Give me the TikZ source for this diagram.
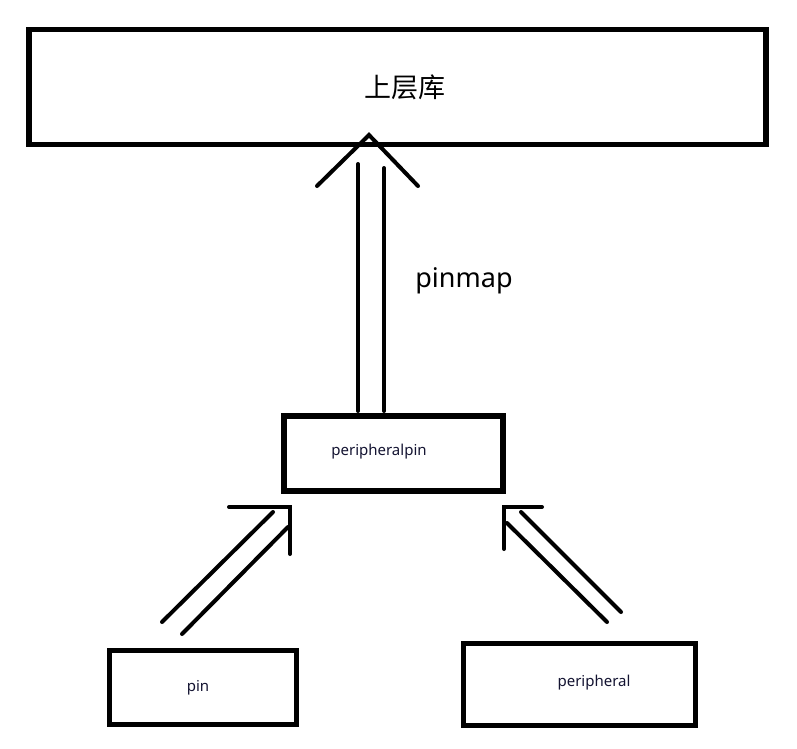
\documentclass[tikz,border=0pt]{standalone}
\usepackage{fontspec}
\setmainfont{Noto Sans}
\newfontfamily\cjk{Noto Sans CJK SC}
\definecolor{txt}{RGB}{20,20,50}
\begin{document}
\begin{tikzpicture}[x=1pt,y=-1pt,
  box/.style={draw=black,line width=5.7pt,inner sep=0pt},
  arr/.style={line width=4pt,line cap=round,line join=miter},
  small/.style={font=\fontsize{15}{17}\selectfont,text=txt,inner sep=0pt}]
\useasboundingbox[fill=white] (0,0) rectangle (797,748);
% boxes
\node[box,minimum width=737pt,minimum height=115pt] (top) at (397.5,87) {};
\node[font=\cjk\fontsize{27}{30}\selectfont,inner sep=0pt] (toplbl) at (405,87) {上层库};
\node[box,minimum width=219pt,minimum height=75pt] (pp) at (393.5,453.7) {};
\node[small] (pplbl) at (379,452) {peripheralpin};
\node[box,minimum width=187pt,minimum height=74pt] (pin) at (203,687.5) {};
\node[small] (pinlbl) at (198,688) {pin};
\node[box,minimum width=232pt,minimum height=82pt] (per) at (579.5,684.5) {};
\node[small] (perlbl) at (594,683) {peripheral};
\node[font=\fontsize{27}{30}\selectfont,inner sep=0pt] (pinmap) at (464,281) {pinmap};
% big up arrow
\coordinate (apex) at (369,135);
\draw[arr] (317,186) -- (apex) -- (418,186);
\draw[arr] (358,164) -- (358,411);
\draw[arr] (384,168) -- (384,411);
% left diagonal arrow
\draw[arr] (229,507) -- (290,507) -- (290,554);
\draw[arr] (162,622) -- (273,512);
\draw[arr] (182,634) -- (288,527);
% right diagonal arrow
\draw[arr] (542,507) -- (504,507) -- (504,549);
\draw[arr] (607,622) -- (507,523);
\draw[arr] (621,612) -- (521,512);
\end{tikzpicture}
\end{document}
